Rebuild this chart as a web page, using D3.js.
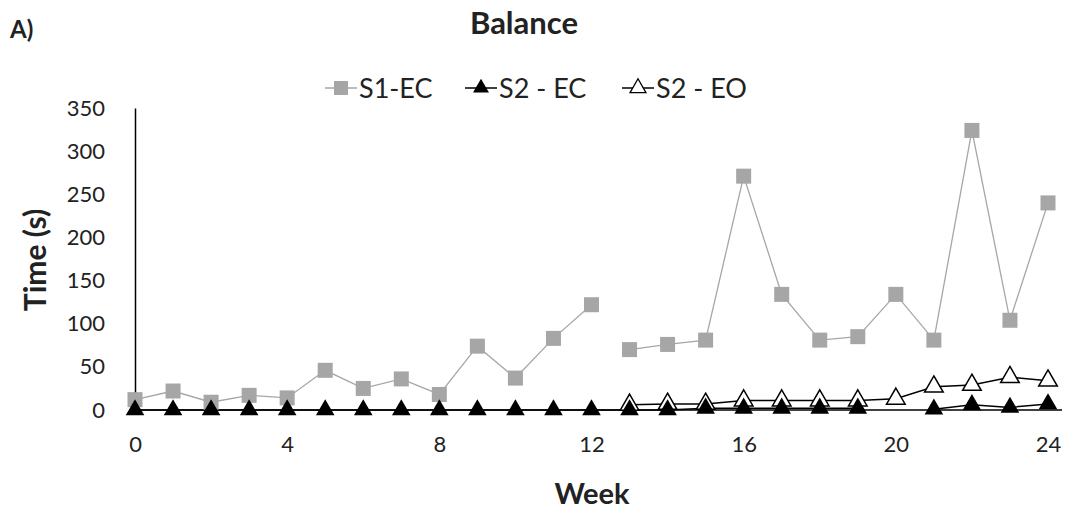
<!DOCTYPE html>
<html><head><meta charset="utf-8">
<script src="https://cdn.jsdelivr.net/npm/d3@7"></script>
<style>body{margin:0;background:#fff}svg{display:block}text{font-family:Lato,"Open Sans",sans-serif}</style>
</head><body><svg id="c" width="1067" height="511"></svg>
<script>
const weeks = d3.range(0, 25);
const s1EC = [12,22,9,17,14,46,25,36,18,74,37,83,122,70,76,81,271,134,81,85,134,81,324,104,240];
const s2EC = [0,0,0,0,0,0,0,0,0,0,0,0,0,0,0,2,2,2,2,2,null,1,6,3,7];
const s2EO = [null,null,null,null,null,null,null,null,null,null,null,null,null,6,7,7,11,11,11,11,13,27,29,38,34];
const yTicks = [0,50,100,150,200,250,300,350];
const xTicks = [0,4,8,12,16,20,24];
const seriesNames = ["S1-EC","S2 - EC","S2 - EO"];
// S1-EC has a break between week 12 and 13
const s1Break = 12;

const svg = d3.select("#c");
const x = d3.scaleLinear().domain([0,24]).range([135,1048]);
const y = d3.scaleLinear().domain([0,350]).range([410,108]);

// axes
svg.append("g").attr("transform","translate(135,0)")
  .call(d3.axisLeft(y).tickValues(yTicks).tickSize(0).tickPadding(30))
  .call(g=>g.select(".domain").attr("stroke","#000").attr("stroke-width",1.5))
  .call(g=>g.selectAll("text").attr("font-size",22).attr("fill","#222").attr("font-family","Lato"));
svg.append("g").attr("transform","translate(0,410)")
  .call(d3.axisBottom(x).tickValues(xTicks).tickSize(0).tickPadding(26))
  .call(g=>g.select(".domain").remove())
  .call(g=>g.selectAll("text").attr("font-size",22).attr("fill","#222").attr("font-family","Lato"));
svg.append("line").attr("x1",135).attr("x2",1062).attr("y1",410).attr("y2",410).attr("stroke","#000").attr("stroke-width",1.5);

const gray = "#a6a6a6";
const line = d3.line().defined(d=>d.v!=null).x(d=>x(d.w)).y(d=>y(d.v));
const d1 = weeks.map((w,i)=>({w, v:s1EC[i]}));
const d2 = weeks.map((w,i)=>({w, v:s2EC[i]}));
const d3s = weeks.map((w,i)=>({w, v:s2EO[i]}));

const tri = d3.symbol().type(d3.symbolTriangle).size(150);

// S2-EO line
svg.append("path").attr("d",line(d3s)).attr("fill","none").attr("stroke","#000").attr("stroke-width",1.5);
// S2-EC line
svg.append("path").attr("d",line(d2)).attr("fill","none").attr("stroke","#000").attr("stroke-width",1.5);
// S1-EC line with break
const seg1 = d1.filter(d=>d.w<=s1Break), seg2 = d1.filter(d=>d.w>s1Break);
[seg1,seg2].forEach(s=>svg.append("path").attr("d",line(s)).attr("fill","none").attr("stroke",gray).attr("stroke-width",1.3));

svg.append("g").selectAll("rect").data(d1).join("rect")
  .attr("x",d=>x(d.w)-7.5).attr("y",d=>y(d.v)-7.5).attr("width",15).attr("height",15).attr("fill",gray);
svg.append("g").selectAll("path").data(d3s.filter(d=>d.v!=null)).join("path")
  .attr("d",tri).attr("transform",d=>`translate(${x(d.w)},${y(d.v)})`)
  .attr("fill","#fff").attr("stroke","#000").attr("stroke-width",1.5);
svg.append("g").selectAll("path").data(d2.filter(d=>d.v!=null)).join("path")
  .attr("d",tri).attr("transform",d=>`translate(${x(d.w)},${y(d.v)})`)
  .attr("fill","#000");

// titles
svg.append("text").attr("x",10).attr("y",38).attr("font-size",24).attr("font-weight","bold").attr("fill","#222").text("A)");
svg.append("text").attr("x",524).attr("y",34).attr("text-anchor","middle").attr("font-size",31).attr("font-weight","bold").attr("fill","#222").text("Balance");
svg.append("text").attr("x",592).attr("y",504).attr("text-anchor","middle").attr("font-size",29).attr("font-weight","bold").attr("fill","#222").text("Week");
svg.append("text").attr("transform","translate(46,260) rotate(-90)").attr("text-anchor","middle").attr("font-size",30).attr("font-weight","bold").attr("fill","#222").text("Time (s)");

// legend
const legX = [325,465,622];
const lg = svg.append("g");
seriesNames.forEach((n,i)=>{
  const g = lg.append("g").attr("transform",`translate(${legX[i]},88)`);
  g.append("line").attr("x1",0).attr("x2",32).attr("y1",0).attr("y2",0).attr("stroke",i==0?gray:"#000").attr("stroke-width",1.5);
  if(i==0) g.append("rect").attr("x",9).attr("y",-7).attr("width",14).attr("height",14).attr("fill",gray);
  else g.append("path").attr("d",d3.symbol().type(d3.symbolTriangle).size(110)).attr("transform","translate(16,0)")
    .attr("fill",i==1?"#000":"#fff").attr("stroke","#000").attr("stroke-width",i==1?0:1.3);
  g.append("text").attr("x",34).attr("y",10).attr("font-size",27).attr("fill","#222").text(n);
});
</script></body></html>
